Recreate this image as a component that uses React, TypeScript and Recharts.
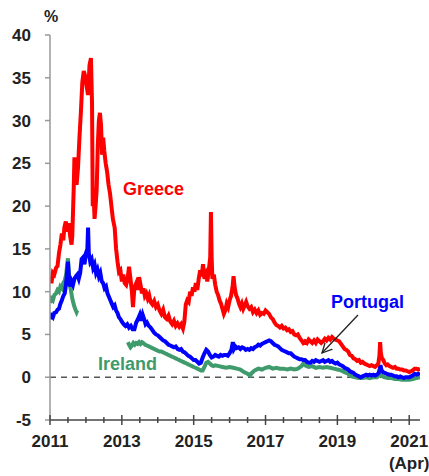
import { LineChart, Line, XAxis, YAxis, ReferenceLine } from 'recharts';

// sovereign 10y spreads
const greeceDates = [
  2011.0, 2011.04, 2011.08, 2011.12, 2011.17, 2011.21, 2011.25, 2011.29, 2011.33, 2011.37, 2011.4, 2011.44, 2011.48, 2011.52,
  2011.56, 2011.6, 2011.62, 2011.66, 2011.68, 2011.7, 2011.74, 2011.78, 2011.82, 2011.86, 2011.9, 2011.94, 2011.98, 2012.02,
  2012.06, 2012.1, 2012.14, 2012.17, 2012.19, 2012.21, 2012.24, 2012.27, 2012.3, 2012.33, 2012.36, 2012.39, 2012.42, 2012.45,
  2012.48, 2012.51, 2012.55, 2012.59, 2012.63, 2012.67, 2012.71, 2012.75, 2012.8, 2012.84, 2012.88, 2012.92, 2012.96, 2013.0,
  2013.04, 2013.08, 2013.12, 2013.16, 2013.2, 2013.24, 2013.28, 2013.31, 2013.35, 2013.4, 2013.44, 2013.48, 2013.52, 2013.56,
  2013.6, 2013.64, 2013.68, 2013.72, 2013.76, 2013.8, 2013.85, 2013.9, 2013.95, 2014.0, 2014.05, 2014.1, 2014.15, 2014.2,
  2014.25, 2014.3, 2014.35, 2014.4, 2014.45, 2014.5, 2014.55, 2014.6, 2014.65, 2014.7, 2014.74, 2014.78, 2014.82, 2014.86,
  2014.9, 2014.94, 2014.98, 2015.02, 2015.06, 2015.1, 2015.14, 2015.18, 2015.22, 2015.26, 2015.3, 2015.34, 2015.38, 2015.42,
  2015.46, 2015.48, 2015.5, 2015.52, 2015.56, 2015.6, 2015.64, 2015.68, 2015.72, 2015.76, 2015.8, 2015.84, 2015.88, 2015.92,
  2015.96, 2016.0, 2016.04, 2016.08, 2016.11, 2016.14, 2016.18, 2016.22, 2016.26, 2016.3, 2016.34, 2016.38, 2016.42, 2016.46,
  2016.5, 2016.55, 2016.6, 2016.65, 2016.7, 2016.75, 2016.8, 2016.85, 2016.9, 2016.95, 2017.0, 2017.05, 2017.1, 2017.15,
  2017.2, 2017.25, 2017.3, 2017.35, 2017.4, 2017.45, 2017.5, 2017.55, 2017.6, 2017.65, 2017.7, 2017.75, 2017.8, 2017.85,
  2017.9, 2017.95, 2018.0, 2018.05, 2018.1, 2018.15, 2018.2, 2018.25, 2018.3, 2018.35, 2018.4, 2018.45, 2018.5, 2018.55,
  2018.6, 2018.65, 2018.7, 2018.75, 2018.8, 2018.85, 2018.9, 2018.95, 2019.0, 2019.05, 2019.1, 2019.15, 2019.2, 2019.25,
  2019.3, 2019.35, 2019.4, 2019.45, 2019.5, 2019.55, 2019.6, 2019.65, 2019.7, 2019.75, 2019.8, 2019.85, 2019.9, 2019.95,
  2020.0, 2020.05, 2020.1, 2020.14, 2020.17, 2020.19, 2020.21, 2020.24, 2020.28, 2020.32, 2020.36, 2020.4, 2020.45, 2020.5,
  2020.55, 2020.6, 2020.65, 2020.7, 2020.75, 2020.8, 2020.85, 2020.9, 2020.95, 2021.0, 2021.05, 2021.1, 2021.15, 2021.2,
  2021.25, 2021.3,
];
const greeceValues = [
  11.8, 11.0, 12.2, 12.0, 12.8, 13.0, 14.5, 15.5, 16.8, 16.0, 17.5, 18.2, 17.0, 18.0,
  16.5, 15.5, 16.5, 22.0, 25.7, 23.0, 22.5, 24.5, 28.0, 31.0, 34.5, 35.8, 35.2, 34.0,
  33.0, 36.5, 37.3, 32.0, 20.0, 22.0, 18.5, 20.0, 22.0, 27.0, 30.0, 30.9, 29.5, 26.0,
  28.0, 26.5, 25.0, 24.0, 22.5, 21.5, 20.0, 18.5, 17.5, 15.0, 13.5, 12.3, 12.5, 11.2,
  12.0, 11.0, 10.8, 11.5, 12.9, 11.5, 10.0, 8.2, 10.5, 11.0, 10.2, 11.7, 10.8, 9.8,
  10.4, 9.5, 9.8, 9.2, 9.6, 8.8, 8.5, 8.9, 8.2, 8.5, 7.8, 7.4, 7.9, 7.0,
  6.8, 7.2, 6.5, 6.2, 6.6, 6.0, 6.3, 5.9, 6.2, 5.7, 6.5, 8.5, 9.0, 8.8,
  10.0, 9.5, 10.5, 10.0, 11.0, 10.2, 11.5, 12.5, 11.8, 13.2, 11.5, 12.0, 11.2, 12.5,
  14.0, 19.3, 14.0, 11.5, 12.0, 10.8, 10.0, 9.6, 9.0, 8.6, 8.0, 7.4, 7.8, 8.6,
  8.2, 9.0, 9.5, 10.5, 11.8, 10.5, 9.6, 9.2, 8.6, 8.2, 8.6, 8.0, 8.4, 8.8,
  8.3, 8.0, 8.2, 7.6, 7.9, 7.5, 7.8, 7.3, 7.5, 7.4, 7.8, 7.6, 7.4, 7.0,
  6.8, 6.4, 6.1, 6.0, 5.8, 6.0, 5.7, 5.8, 5.5, 5.6, 5.3, 5.4, 5.0, 4.9,
  5.0, 4.6, 4.3, 4.0, 4.2, 4.0, 4.4, 4.2, 4.0, 4.3, 4.0, 4.4, 4.2, 4.0,
  4.2, 4.5, 4.3, 4.6, 4.4, 4.7, 4.5, 4.4, 4.3, 4.2, 3.9, 3.6, 3.3, 3.2,
  3.0, 2.6, 2.5, 2.2, 2.1, 1.9, 2.0, 1.7, 1.8, 1.6, 1.5, 1.4, 1.3, 1.4,
  1.3, 1.2, 1.4, 1.6, 2.5, 4.1, 2.8, 2.2, 2.0, 1.6, 1.4, 1.5, 1.3, 1.2,
  1.1, 1.2, 1.0, 1.0, 0.9, 0.9, 0.8, 0.8, 0.7, 0.6, 0.7, 0.8, 1.0, 1.0,
  0.9, 1.0,
];

const portugalDates = [
  2011.0, 2011.04, 2011.08, 2011.12, 2011.17, 2011.21, 2011.25, 2011.29, 2011.33, 2011.37, 2011.41, 2011.45, 2011.48, 2011.5,
  2011.53, 2011.56, 2011.6, 2011.64, 2011.68, 2011.72, 2011.76, 2011.8, 2011.84, 2011.88, 2011.92, 2011.96, 2012.0, 2012.04,
  2012.06, 2012.08, 2012.12, 2012.16, 2012.2, 2012.24, 2012.28, 2012.32, 2012.36, 2012.4, 2012.44, 2012.48, 2012.52, 2012.56,
  2012.6, 2012.64, 2012.68, 2012.72, 2012.76, 2012.8, 2012.84, 2012.88, 2012.92, 2012.96, 2013.0, 2013.05, 2013.1, 2013.15,
  2013.2, 2013.25, 2013.3, 2013.35, 2013.4, 2013.45, 2013.5, 2013.54, 2013.58, 2013.62, 2013.66, 2013.7, 2013.75, 2013.8,
  2013.85, 2013.9, 2013.95, 2014.0, 2014.05, 2014.1, 2014.15, 2014.2, 2014.25, 2014.3, 2014.35, 2014.4, 2014.45, 2014.5,
  2014.55, 2014.6, 2014.65, 2014.7, 2014.75, 2014.8, 2014.85, 2014.9, 2014.95, 2015.0, 2015.05, 2015.1, 2015.15, 2015.2,
  2015.25, 2015.3, 2015.35, 2015.4, 2015.45, 2015.5, 2015.55, 2015.6, 2015.65, 2015.7, 2015.75, 2015.8, 2015.85, 2015.9,
  2015.95, 2016.0, 2016.05, 2016.09, 2016.12, 2016.16, 2016.2, 2016.25, 2016.3, 2016.35, 2016.4, 2016.45, 2016.5, 2016.55,
  2016.6, 2016.65, 2016.7, 2016.75, 2016.8, 2016.85, 2016.9, 2016.95, 2017.0, 2017.05, 2017.1, 2017.15, 2017.2, 2017.25,
  2017.3, 2017.35, 2017.4, 2017.45, 2017.5, 2017.55, 2017.6, 2017.65, 2017.7, 2017.75, 2017.8, 2017.85, 2017.9, 2017.95,
  2018.0, 2018.05, 2018.1, 2018.15, 2018.2, 2018.25, 2018.3, 2018.35, 2018.4, 2018.45, 2018.5, 2018.55, 2018.6, 2018.65,
  2018.7, 2018.75, 2018.8, 2018.85, 2018.9, 2018.95, 2019.0, 2019.05, 2019.1, 2019.15, 2019.2, 2019.25, 2019.3, 2019.35,
  2019.4, 2019.45, 2019.5, 2019.55, 2019.6, 2019.65, 2019.7, 2019.75, 2019.8, 2019.85, 2019.9, 2019.95, 2020.0, 2020.05,
  2020.1, 2020.15, 2020.18, 2020.2, 2020.23, 2020.27, 2020.32, 2020.38, 2020.45, 2020.5, 2020.55, 2020.6, 2020.65, 2020.7,
  2020.75, 2020.8, 2020.85, 2020.9, 2020.95, 2021.0, 2021.05, 2021.1, 2021.15, 2021.2, 2021.25, 2021.3,
];
const portugalValues = [
  6.8, 7.2, 7.0, 7.5, 7.6, 7.9, 8.0, 8.6, 9.0, 9.5, 9.8, 11.0, 12.5, 13.5,
  11.5, 10.6, 11.2, 10.8, 11.5, 11.8, 12.0, 11.5, 12.2, 13.8, 14.0, 13.2, 14.5, 15.0,
  17.5, 14.5, 13.5, 13.8, 12.8, 13.2, 12.2, 12.6, 11.8, 12.2, 11.2, 11.0, 10.4, 10.6,
  9.8, 9.4, 9.0, 8.6, 8.2, 8.4, 7.8, 7.5, 7.0, 6.8, 6.5, 6.2, 6.0, 6.2,
  5.8, 6.0, 5.6, 5.6, 6.4, 6.8, 7.3, 6.6, 7.3, 6.8, 6.2, 6.4, 6.0, 5.8,
  5.5, 5.2, 5.0, 4.9, 4.7, 4.5, 4.3, 4.2, 4.0, 3.8, 3.7, 3.6, 3.5, 3.6,
  3.3, 3.2, 3.3, 3.0, 2.9, 2.7, 2.5, 2.4, 2.2, 2.0, 2.0, 1.8, 1.6, 1.7,
  2.3, 2.8, 3.2, 3.0, 2.6, 2.3, 2.4, 2.6, 2.5, 2.4, 2.6, 2.5, 2.6, 2.6,
  2.5, 2.8, 3.2, 4.1, 3.3, 3.6, 3.4, 3.5, 3.3, 3.5, 3.4, 3.2, 3.3, 3.2,
  3.4, 3.3, 3.5, 3.6, 3.8, 3.7, 3.9, 4.0, 4.1, 4.2, 4.3, 4.2, 4.0, 3.8,
  3.7, 3.6, 3.4, 3.2, 3.1, 3.0, 2.9, 2.8, 2.8, 2.6, 2.4, 2.3, 2.2, 2.1,
  2.1, 2.0, 2.0, 1.8, 1.7, 1.7, 1.9, 1.8, 2.0, 1.9, 1.8, 1.9, 2.0, 1.8,
  1.9, 2.0, 1.8, 1.9, 1.7, 1.6, 1.7, 1.5, 1.4, 1.3, 1.1, 1.0, 0.9, 0.7,
  0.6, 0.5, 0.3, 0.2, 0.1, 0.0, 0.1, 0.2, 0.3, 0.2, 0.3, 0.2, 0.3, 0.2,
  0.3, 0.5, 1.0, 1.4, 0.8, 0.6, 0.5, 0.4, 0.3, 0.3, 0.2, 0.1, 0.1, 0.0,
  0.1, 0.0, -0.1, 0.0, 0.0, 0.0, 0.1, 0.2, 0.4, 0.3, 0.4, 0.3,
];

// Ireland has no quotes between late 2011 and early 2013 (null breaks the line)
const irelandDates = [
  2011.0, 2011.04, 2011.08, 2011.12, 2011.17, 2011.21, 2011.25, 2011.29, 2011.33, 2011.37, 2011.41, 2011.45, 2011.48, 2011.5,
  2011.52, 2011.55, 2011.58, 2011.62, 2011.66, 2011.7, 2011.74, 2011.76, 2012.5,
  2013.17, 2013.2, 2013.24, 2013.28, 2013.32, 2013.36, 2013.4, 2013.44, 2013.48, 2013.52, 2013.56, 2013.6, 2013.65, 2013.7,
  2013.75, 2013.8, 2013.85, 2013.9, 2013.95, 2014.0, 2014.05, 2014.1, 2014.15, 2014.2, 2014.25, 2014.3, 2014.35, 2014.4,
  2014.45, 2014.5, 2014.55, 2014.6, 2014.65, 2014.7, 2014.75, 2014.8, 2014.85, 2014.9, 2014.95, 2015.0, 2015.05, 2015.1,
  2015.15, 2015.2, 2015.25, 2015.3, 2015.35, 2015.4, 2015.45, 2015.5, 2015.55, 2015.6, 2015.7, 2015.8, 2015.9, 2016.0,
  2016.1, 2016.2, 2016.3, 2016.4, 2016.5, 2016.57, 2016.62, 2016.7, 2016.8, 2016.9, 2017.0, 2017.1, 2017.2, 2017.3,
  2017.4, 2017.5, 2017.6, 2017.7, 2017.8, 2017.9, 2018.0, 2018.05, 2018.1, 2018.2, 2018.3, 2018.4, 2018.5, 2018.6,
  2018.7, 2018.8, 2018.9, 2019.0, 2019.1, 2019.2, 2019.3, 2019.4, 2019.5, 2019.6, 2019.7, 2019.8, 2019.9, 2020.0,
  2020.1, 2020.18, 2020.22, 2020.3, 2020.4, 2020.5, 2020.6, 2020.7, 2020.8, 2020.9, 2021.0, 2021.1, 2021.2, 2021.3,
];
const irelandValues = [
  8.7, 9.2, 9.0, 9.6, 9.8, 10.2, 10.0, 10.6, 10.4, 11.0, 11.3, 12.0, 13.2, 13.9,
  12.5, 10.8, 10.2, 9.2, 8.5, 8.0, 7.6, 7.8, null,
  4.1, 3.8, 3.5, 3.7, 4.0, 3.8, 4.0, 3.9, 4.1, 3.9, 4.1, 4.0, 3.8, 3.7,
  3.6, 3.5, 3.4, 3.3, 3.2, 3.1, 3.0, 3.0, 2.9, 2.8, 2.7, 2.6, 2.5, 2.4,
  2.3, 2.2, 2.1, 2.0, 1.9, 1.8, 1.7, 1.6, 1.5, 1.4, 1.3, 1.2, 1.1, 1.0,
  0.9, 0.8, 0.8, 1.2, 1.7, 1.8, 1.6, 1.4, 1.3, 1.4, 1.3, 1.2, 1.1, 1.2,
  1.1, 1.0, 0.9, 0.6, 0.4, 0.2, 0.5, 0.8, 1.0, 0.9, 1.1, 1.2, 1.0, 1.1,
  1.0, 1.0, 0.9, 1.0, 0.9, 1.0, 1.3, 1.6, 1.4, 1.2, 1.3, 1.1, 1.2, 1.1,
  1.2, 1.1, 1.0, 0.9, 0.8, 0.6, 0.4, 0.1, 0.0, -0.1, -0.1, 0.0, -0.1, 0.0,
  0.0, 0.3, 0.2, 0.0, -0.1, -0.1, -0.2, -0.2, -0.3, -0.3, -0.3, -0.2, -0.1, 0.0,
];

const yTicks = [-5, 0, 5, 10, 15, 20, 25, 30, 35, 40];
const xTicks = [
  2011, 2011.5, 2012, 2012.5, 2013, 2013.5, 2014, 2014.5, 2015, 2015.5, 2016, 2016.5,
  2017, 2017.5, 2018, 2018.5, 2019, 2019.5, 2020, 2020.5, 2021,
];
const xLabels = [2011, 2013, 2015, 2017, 2019, 2021];

const toRows = (dates: number[], values: (number | null)[]) => dates.map((x, i) => ({ x, v: values[i] }));

const greece = toRows(greeceDates, greeceValues);
const portugal = toRows(portugalDates, portugalValues);
const ireland = toRows(irelandDates, irelandValues);

const FONT = '"Liberation Sans", Arial, sans-serif';

function XTick({ x, y, payload }: any) {
  const val = payload.value;
  const major = xLabels.includes(val);
  const h = major ? 5 : 3;
  return (
    <g>
      <line x1={x} x2={x} y1={y - h} y2={y + h} stroke="#444" strokeWidth={1.5} />
      {major && (
        <text x={x} y={y + 27} textAnchor="middle" fontFamily={FONT} fontSize={17} fontWeight="bold" fill="#222">
          {val}
        </text>
      )}
      {val === 2021 && (
        <text x={x} y={y + 49} textAnchor="middle" fontFamily={FONT} fontSize={17} fontWeight="bold" fill="#222">
          (Apr)
        </text>
      )}
    </g>
  );
}

export default function App() {
  return (
    <div style={{ position: 'absolute', left: 0, top: 0, width: 429, height: 476, background: '#fff' }}>
      <LineChart width={429} height={476} margin={{ top: 35, right: 9, left: 0, bottom: 0 }}>
        <XAxis
          dataKey="x"
          type="number"
          domain={[2011, 2021.3]}
          ticks={xTicks}
          interval={0}
          height={56}
          tickSize={0}
          tickMargin={0}
          tickLine={false}
          axisLine={{ stroke: '#444', strokeWidth: 1.5 }}
          tick={<XTick />}
          allowDataOverflow
        />
        <YAxis
          type="number"
          domain={[-5, 40]}
          ticks={yTicks}
          interval={0}
          width={50}
          tickSize={5}
          tickMargin={14}
          axisLine={{ stroke: '#999', strokeWidth: 1.5 }}
          tickLine={{ stroke: '#999', strokeWidth: 1.5 }}
          tick={{ fill: '#222', fontSize: 17, fontWeight: 'bold', fontFamily: FONT }}
        />
        <ReferenceLine y={0} stroke="#555" strokeWidth={1.5} strokeDasharray="6 5" />
        <Line data={ireland} dataKey="v" stroke="#3f9b6c" strokeWidth={4} dot={false} isAnimationActive={false} />
        <Line data={portugal} dataKey="v" stroke="#0000ff" strokeWidth={4} dot={false} isAnimationActive={false} />
        <Line data={greece} dataKey="v" stroke="#ff0000" strokeWidth={4} dot={false} isAnimationActive={false} />
      </LineChart>
      <svg width={429} height={476} style={{ position: 'absolute', left: 0, top: 0, pointerEvents: 'none' }}>
        <defs>
          <marker id="head" markerWidth="12" markerHeight="12" refX="10" refY="6" orient="auto" markerUnits="userSpaceOnUse">
            <path d="M0,1 L10,6 L0,11" fill="none" stroke="#222" strokeWidth={1.3} />
          </marker>
        </defs>
        <text x={51} y={22} textAnchor="middle" fontFamily={FONT} fontSize={16} fontWeight="bold" fill="#222">%</text>
        <text x={123} y={195} fontFamily={FONT} fontSize={18} fontWeight="bold" fill="#ff0000">Greece</text>
        <text x={331} y={308} fontFamily={FONT} fontSize={18} fontWeight="bold" fill="#0000ff">Portugal</text>
        <text x={98} y={370} fontFamily={FONT} fontSize={18} fontWeight="bold" fill="#3f9b6c">Ireland</text>
        <line x1={358} y1={315} x2={322} y2={353} stroke="#222" strokeWidth={1.3} markerEnd="url(#head)" />
      </svg>
    </div>
  );
}
